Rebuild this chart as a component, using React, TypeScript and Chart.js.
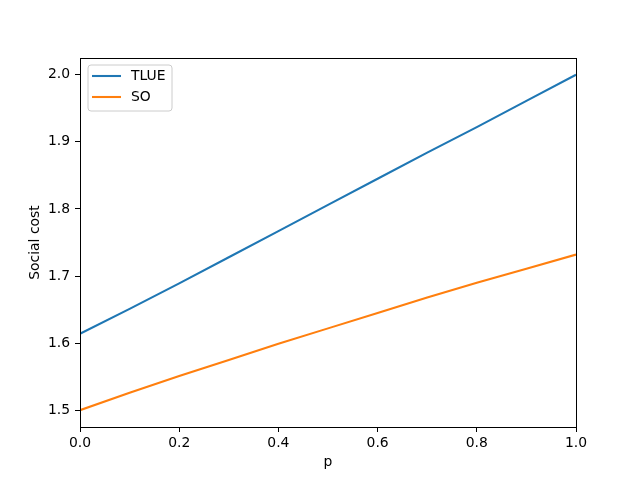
import React, { useEffect, useRef } from "react";
import { Chart, registerables } from "chart.js";

Chart.register(...registerables);

const pValues = [0, 0.1, 0.2, 0.3, 0.4, 0.5, 0.6, 0.7, 0.8, 0.9, 1.0];
const tlueValues = [1.614, 1.651, 1.689, 1.728, 1.767, 1.806, 1.845, 1.884, 1.922, 1.961, 2.0];
const soValues = [1.5, 1.526, 1.551, 1.575, 1.599, 1.622, 1.645, 1.668, 1.69, 1.711, 1.732];
const seriesLabels = ["TLUE", "SO"];
const xTickValues = [0, 0.2, 0.4, 0.6, 0.8, 1.0];
const yTickValues = [1.5, 1.6, 1.7, 1.8, 1.9, 2.0];
const xLabel = "p";
const yLabel = "Social cost";

const FAMILY = "'DejaVu Sans', sans-serif";
const FS = 13.9;

const framePlugin = {
  id: "frame",
  afterDatasetsDraw(chart: any) {
    const { ctx, chartArea } = chart;
    ctx.save();
    ctx.strokeStyle = "#000";
    ctx.lineWidth = 1;
    const l = Math.round(chartArea.left) + 0.5;
    const t = Math.round(chartArea.top) + 0.5;
    const r = Math.round(chartArea.right) + 0.5;
    const b = Math.round(chartArea.bottom) + 0.5;
    ctx.strokeRect(l, t, r - l, b - t);
    ctx.restore();
  },
};

const legendPlugin = {
  id: "mplLegend",
  afterDraw(chart: any) {
    const { ctx, chartArea } = chart;
    const x0 = chartArea.left + 8;
    const y0 = chartArea.top + 7;
    const w = 84;
    const h = 46;
    ctx.save();
    ctx.beginPath();
    const r = 3;
    ctx.moveTo(x0 + r, y0);
    ctx.lineTo(x0 + w - r, y0);
    ctx.quadraticCurveTo(x0 + w, y0, x0 + w, y0 + r);
    ctx.lineTo(x0 + w, y0 + h - r);
    ctx.quadraticCurveTo(x0 + w, y0 + h, x0 + w - r, y0 + h);
    ctx.lineTo(x0 + r, y0 + h);
    ctx.quadraticCurveTo(x0, y0 + h, x0, y0 + h - r);
    ctx.lineTo(x0, y0 + r);
    ctx.quadraticCurveTo(x0, y0, x0 + r, y0);
    ctx.closePath();
    ctx.fillStyle = "rgba(255,255,255,0.8)";
    ctx.fill();
    ctx.strokeStyle = "#cccccc";
    ctx.lineWidth = 1;
    ctx.stroke();
    chart.data.datasets.forEach((ds: any, i: number) => {
      const yy = y0 + 11 + i * 21;
      ctx.beginPath();
      ctx.strokeStyle = ds.borderColor;
      ctx.lineWidth = 2.08;
      ctx.moveTo(x0 + 4, yy);
      ctx.lineTo(x0 + 33, yy);
      ctx.stroke();
      ctx.fillStyle = "#000";
      ctx.font = `${FS}px ${FAMILY}`;
      ctx.textBaseline = "middle";
      ctx.textAlign = "left";
      ctx.fillText(ds.label, x0 + 43, yy + 0.5);
    });
    ctx.restore();
  },
};

export default function App() {
  const ref = useRef<HTMLCanvasElement>(null);
  useEffect(() => {
    if (!ref.current) return;
    const chart = new Chart(ref.current, {
      type: "line",
      data: {
        datasets: [
          {
            label: seriesLabels[0],
            data: pValues.map((p, i) => ({ x: p, y: tlueValues[i] })),
            borderColor: "#1f77b4",
            backgroundColor: "#1f77b4",
            borderWidth: 2.08,
            pointRadius: 0,
            tension: 0,
          },
          {
            label: seriesLabels[1],
            data: pValues.map((p, i) => ({ x: p, y: soValues[i] })),
            borderColor: "#ff7f0e",
            backgroundColor: "#ff7f0e",
            borderWidth: 2.08,
            pointRadius: 0,
            tension: 0,
          },
        ],
      },
      options: {
        responsive: false,
        animation: false,
        layout: { padding: { left: 0, top: 58, right: 64, bottom: 0 } },
        plugins: { legend: { display: false }, tooltip: { enabled: false } },
        scales: {
          x: {
            type: "linear",
            min: 0,
            max: 1,
            afterBuildTicks: (s: any) => {
              s.ticks = xTickValues.map((v) => ({ value: v }));
            },
            afterFit: (s: any) => {
              s.height = 53;
            },
            ticks: {
              callback: (v: any) => Number(v).toFixed(1),
              color: "#000",
              font: { family: FAMILY, size: FS },
              padding: 3.5,
              maxRotation: 0,
              autoSkip: false,
            },
            grid: {
              display: true,
              drawOnChartArea: false,
              drawTicks: true,
              tickLength: 5,
              tickColor: "#000",
              tickWidth: 1,
            },
            border: { display: false },
            title: {
              display: true,
              text: xLabel,
              color: "#000",
              font: { family: FAMILY, size: FS },
              padding: { top: 0, bottom: 9 },
            },
          },
          y: {
            type: "linear",
            min: 1.475,
            max: 2.025,
            afterBuildTicks: (s: any) => {
              s.ticks = yTickValues.map((v) => ({ value: v }));
            },
            afterFit: (s: any) => {
              s.width = 80;
            },
            ticks: {
              callback: (v: any) => Number(v).toFixed(1),
              color: "#000",
              font: { family: FAMILY, size: FS },
              padding: 5,
              autoSkip: false,
            },
            grid: {
              display: true,
              drawOnChartArea: false,
              drawTicks: true,
              tickLength: 5,
              tickColor: "#000",
              tickWidth: 1,
            },
            border: { display: false },
            title: {
              display: true,
              text: yLabel,
              color: "#000",
              font: { family: FAMILY, size: FS },
              padding: { top: 27.5, bottom: 0 },
            },
          },
        },
      },
      plugins: [framePlugin, legendPlugin],
    } as any);
    return () => chart.destroy();
  }, []);
  return (
    <div style={{ position: "absolute", left: 0, top: 0, width: 640, height: 480, background: "#fff" }}>
      <canvas ref={ref} width={640} height={480} />
    </div>
  );
}
